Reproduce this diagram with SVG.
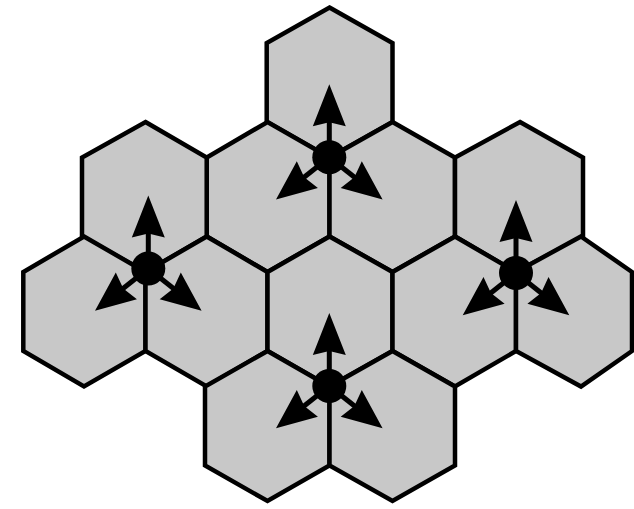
<svg xmlns="http://www.w3.org/2000/svg" width="634" height="509" viewBox="0 0 634 509">
<style>
.hex{fill:#c8c8c8;stroke:#000;stroke-width:4.5;stroke-linejoin:miter}
.shaft{stroke:#000;stroke-width:5;fill:none}
.head{fill:#000;stroke:none}
</style>
<defs>
<g id="arrowUp">
<line class="shaft" x1="0" y1="0" x2="0" y2="-38"/>
<polygon class="head" points="0,-73 16.5,-31 0,-35 -16.5,-31"/>
</g>
<g id="arrowDiag">
<line class="shaft" x1="0" y1="0" x2="33" y2="0"/>
<polygon class="head" points="68,0 28,-17 32,0 28,17"/>
</g>
<g id="glyph">
<circle cx="0" cy="0" r="17" fill="#000"/>
<use href="#arrowUp"/>
<use href="#arrowDiag" transform="rotate(141.6)"/>
<use href="#arrowDiag" transform="rotate(38.4)"/>
</g>
</defs>
<g id="hexes">
<g id="hex-top"><polygon class="hex" points="329.5,7.5 392.5,43 392.5,122 329.5,157.5 266.7,122 266.7,43"/></g>
<g id="hex-top-ll"><polygon class="hex" points="267.5,122 329.5,157.5 329.5,236.5 267.5,272 206.7,236.5 206.7,157.5"/></g>
<g id="hex-top-lr"><polygon class="hex" points="392.5,122 455,157.5 455,236.5 392.5,272 329.5,236.5 329.5,157.5"/></g>
<g id="hex-left-up"><polygon class="hex" points="145.5,122 206.7,157.5 206.7,236.5 145.5,272 82,236.5 82,157.5"/></g>
<g id="hex-left-ll"><polygon class="hex" points="84,236.5 145.5,272 145.5,351 84,386.5 23.3,351 23.3,272"/></g>
<g id="hex-left-lr"><polygon class="hex" points="206.7,236.5 267.5,272 267.5,351 206.7,386.5 145.5,351 145.5,272"/></g>
<g id="hex-mid"><polygon class="hex" points="329.5,236.5 392.5,272 392.5,351 329.5,386.5 267.5,351 267.5,272"/></g>
<g id="hex-right-up"><polygon class="hex" points="520,122 583,157.5 583,236.5 516,272 455,236.5 455,157.5"/></g>
<g id="hex-right-ll"><polygon class="hex" points="455,236.5 516,272 516,351 455,386.5 392.5,351 392.5,272"/></g>
<g id="hex-right-lr"><polygon class="hex" points="581,236.5 632,272 632,351 581,386.5 516,351 516,272"/></g>
<g id="hex-bot-ll"><polygon class="hex" points="267.5,351 329.5,386.5 329.5,465.5 267.5,501 205,465.5 205,386.5"/></g>
<g id="hex-bot-lr"><polygon class="hex" points="392.5,351 455,386.5 455,465.5 392.5,501 329.5,465.5 329.5,386.5"/></g>
</g>
<g id="connectors">
<use href="#glyph" x="329.3" y="157.3"/>
<use href="#glyph" x="148.3" y="268.5"/>
<use href="#glyph" x="516" y="273"/>
<use href="#glyph" x="329.3" y="386"/>
</g>
</svg>
